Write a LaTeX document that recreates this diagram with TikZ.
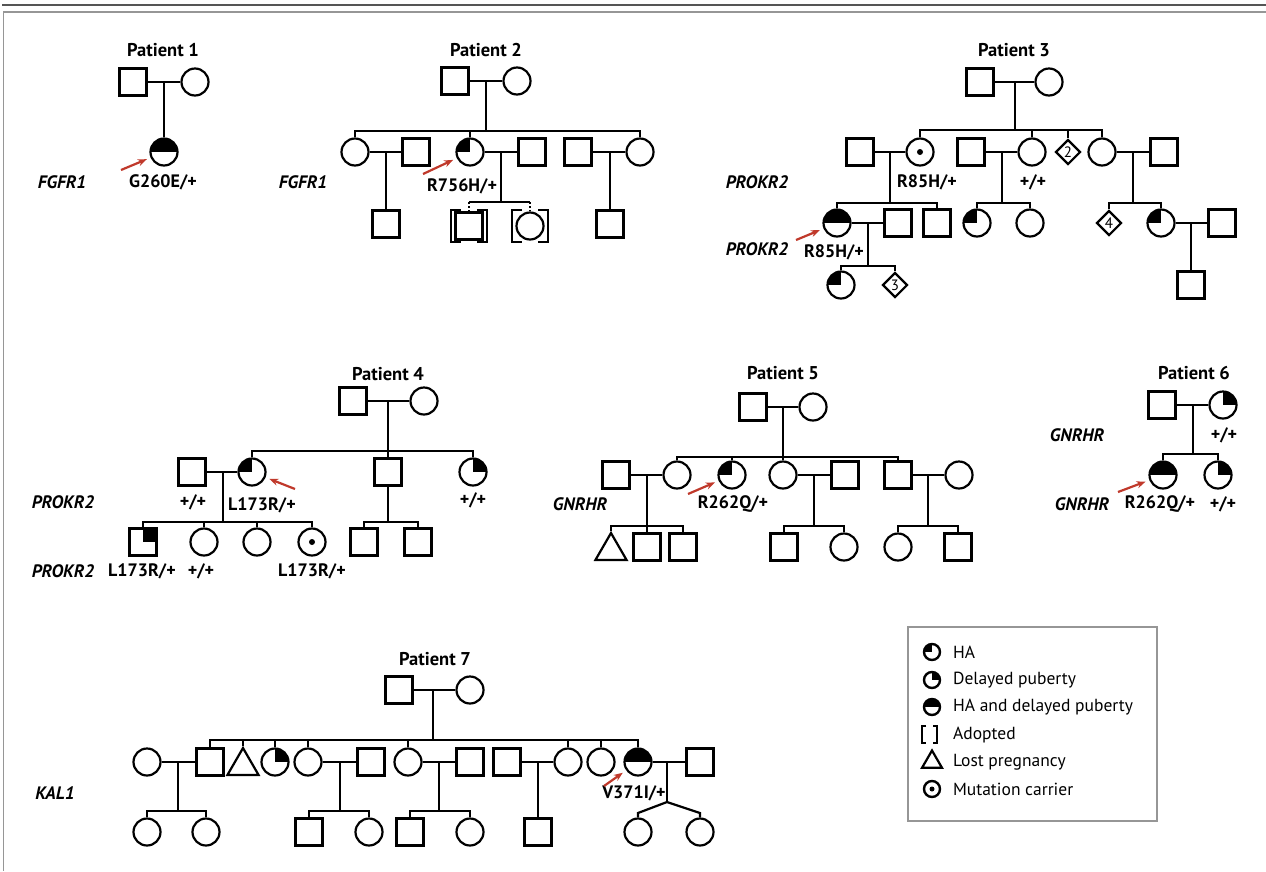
\documentclass[tikz,border=0pt]{standalone}
\usepackage{fontspec}
\setmainfont{PT Sans}
\usetikzlibrary{shapes.geometric,arrows.meta}

\definecolor{arrowred}{RGB}{192,57,43}
\definecolor{framegray}{RGB}{85,85,85}
\definecolor{keygray}{RGB}{150,150,150}

\tikzstyle{mS}=[rectangle,draw,fill=white,minimum size=27pt,inner sep=0pt,line width=2.2pt]
\tikzstyle{fS}=[circle,draw,fill=white,minimum size=27pt,inner sep=0pt,line width=2.2pt]
\tikzstyle{uS}=[diamond,draw,fill=white,minimum width=25pt,minimum height=25pt,inner sep=0pt,line width=2.2pt,font=\fontsize{15}{17}\selectfont]
\tikzstyle{lpS}=[regular polygon,regular polygon sides=3,draw,fill=white,minimum size=36pt,inner sep=0pt,line width=2.2pt]
\tikzstyle{haF}=[path picture={\fill[black] (path picture bounding box.center) rectangle (path picture bounding box.north west);}]
\tikzstyle{dpF}=[path picture={\fill[black] (path picture bounding box.center) rectangle (path picture bounding box.north east);}]
\tikzstyle{hdF}=[path picture={\fill[black] (path picture bounding box.west) rectangle (path picture bounding box.north east);}]
\tikzstyle{cF}=[path picture={\fill[black] (path picture bounding box.center) circle (3pt);}]
\tikzstyle{hS}=[inner sep=0pt,font=\fontsize{18.5}{20}\selectfont\bfseries]
\tikzstyle{gS}=[inner sep=0pt,font=\fontsize{18}{20}\selectfont\bfseries\itshape]
\tikzstyle{vS}=[inner sep=0pt,font=\fontsize{18}{20}\selectfont\bfseries]
\tikzstyle{kS}=[circle,draw,minimum size=16pt,inner sep=0pt,line width=2.4pt]
\tikzstyle{kT}=[anchor=west,inner sep=0pt,font=\fontsize{17.5}{19}\selectfont]
\tikzstyle{pA}=[-{Stealth[length=9pt,width=7pt]},line width=2.2pt,draw=arrowred,shorten >=4pt]

% brackets round an adopted child
\newcommand{\adopt}[1]{%
  \draw ([shift={(-8,-16)}]#1.center) -- ([shift={(-18,-16)}]#1.center) -- ([shift={(-18,16)}]#1.center) -- ([shift={(-8,16)}]#1.center);
  \draw ([shift={(8,-16)}]#1.center) -- ([shift={(18,-16)}]#1.center) -- ([shift={(18,16)}]#1.center) -- ([shift={(8,16)}]#1.center);}

\begin{document}
\begin{tikzpicture}[x=1pt,y=-1pt,line width=2.2pt]
    \useasboundingbox (0,0) rectangle (1266,871);
    \draw[framegray,line width=2.5pt] (2,5) -- (1266,5);
    \draw[keygray,line width=1.5pt] (1266,12) -- (3.5,12) -- (3.5,871);

    % Patient 1
    \draw (163,50) node[hS] (t1) {Patient 1};
    \draw (133,82) node[mS] (f1) {};
    \draw (195,82) node[fS] (m1) {};
    \draw (164,152) node[fS,hdF] (p1) {};
    \coordinate (c1) at (164,82);
    \draw (f1) -- (m1) (c1) -- (p1);
    \draw (62,182) node[gS] (g1) {FGFR1};
    \draw (163,182) node[vS] (v1) {G260E/+};
    \coordinate (a1) at (121,170);
    \draw[pA] (a1) -- (p1);

    % Patient 2
    \draw (486,50) node[hS] (t2) {Patient 2};
    \draw (455,81) node[mS] (f2) {};
    \draw (517,81) node[fS] (m2) {};
    \coordinate (c2) at (486,81);
    \coordinate (s2) at (486,131);
    \draw (355,152) node[fS] (d2a) {};
    \draw (416,152) node[mS] (h2a) {};
    \draw (470,152) node[fS,haF] (p2) {};
    \draw (532,152) node[mS] (h2b) {};
    \draw (578,152) node[mS] (h2c) {};
    \draw (640,152) node[fS] (d2c) {};
    \draw (386,224) node[mS] (g2a) {};
    \draw (469,226) node[mS] (g2b) {};
    \draw (530,226) node[fS] (g2c) {};
    \draw (610,224) node[mS] (g2d) {};
    \coordinate (c2a) at (386,152);
    \coordinate (c2b) at (501,152);
    \coordinate (s2b) at (501,202);
    \coordinate (t2a) at (469,202);
    \coordinate (t2b) at (530,202);
    \coordinate (c2c) at (610,152);
    \draw (f2) -- (m2) (c2) -- (s2);
    \draw (d2a) |- (s2) -| (d2c);
    \draw (s2) -| (p2);
    \draw (d2a) -- (h2a) (c2a) -- (g2a);
    \draw (p2) -- (h2b) (c2b) -- (s2b);
    \draw (t2a) -- (t2b);
    \draw[line width=1.5pt,dash pattern=on 2pt off 2pt] (t2a) -- (g2b) (t2b) -- (g2c);
    \adopt{g2b}
    \adopt{g2c}
    \draw (h2c) -- (d2c) (c2c) -- (g2d);
    \draw (303,182) node[gS] (g2) {FGFR1};
    \draw (462,186) node[vS] (v2) {R756H/+};
    \coordinate (a2) at (423,174);
    \draw[pA] (a2) -- (p2);

    % Patient 3
    \draw (1014,50) node[hS] (t3) {Patient 3};
    \draw (980,82) node[mS] (f3) {};
    \draw (1049,82) node[fS] (m3) {};
    \coordinate (c3) at (1015,82);
    \coordinate (s3) at (1015,130);
    \draw (860,152) node[mS] (h3a) {};
    \draw (920,152) node[fS,cF] (k3a) {};
    \draw (971,152) node[mS] (h3b) {};
    \draw (1032,152) node[fS] (k3b) {};
    \draw (1068,152) node[uS] (x3a) {2};
    \draw (1102,152) node[fS] (k3c) {};
    \draw (1164,152) node[mS] (h3c) {};
    \draw (837,223) node[fS,hdF] (p3) {};
    \draw (898,223) node[mS] (h3d) {};
    \draw (937,223) node[mS] (b3a) {};
    \draw (977,223) node[fS,haF] (k3d) {};
    \draw (1030,223) node[fS] (k3e) {};
    \draw (1109,223) node[uS] (x3b) {4};
    \draw (1161,223) node[fS,haF] (k3f) {};
    \draw (1222,223) node[mS] (h3e) {};
    \draw (841,285) node[fS,haF] (g3a) {};
    \draw (895,285) node[uS] (x3c) {3};
    \draw (1191,285) node[mS] (g3c) {};
    \coordinate (c3a) at (890,152);
    \coordinate (s3a) at (890,203);
    \coordinate (c3b) at (1002,152);
    \coordinate (s3b) at (1002,203);
    \coordinate (c3c) at (1133,152);
    \coordinate (s3c) at (1133,203);
    \coordinate (c3d) at (868,223);
    \coordinate (s3d) at (868,266);
    \coordinate (c3e) at (1191,223);
    \draw (f3) -- (m3) (c3) -- (s3);
    \draw (k3a) |- (s3) -| (k3c);
    \draw (s3) -| (k3b) (s3) -| (x3a);
    \draw (h3a) -- (k3a) (c3a) -- (s3a);
    \draw (h3b) -- (k3b) (c3b) -- (s3b);
    \draw (k3c) -- (h3c) (c3c) -- (s3c);
    \draw (p3) |- (s3a) -| (b3a);
    \draw (k3d) |- (s3b) -| (k3e);
    \draw (x3b) |- (s3c) -| (k3f);
    \draw (p3) -- (h3d) (c3d) -- (s3d);
    \draw (g3a) |- (s3d) -| (x3c);
    \draw (k3f) -- (h3e) (c3e) -- (g3c);
    \draw (757,182) node[gS] (g3) {PROKR2};
    \draw (757,249) node[gS] (g3b) {PROKR2};
    \draw (927,182) node[vS] (v3a) {R85H/+};
    \draw (1033,182) node[vS] (v3b) {+/+};
    \draw (834,252) node[vS] (v3c) {R85H/+};
    \coordinate (a3) at (796,240);
    \draw[pA] (a3) -- (p3);

    % Patient 4
    \draw (388,374) node[hS] (t4) {Patient 4};
    \draw (353,401) node[mS] (f4) {};
    \draw (424,401) node[fS] (m4) {};
    \coordinate (c4) at (388,401);
    \coordinate (s4) at (388,451);
    \draw (192,472) node[mS] (h4a) {};
    \draw (252,472) node[fS,haF] (p4) {};
    \draw (388,472) node[mS] (b4a) {};
    \draw (473,472) node[fS,dpF] (k4a) {};
    \draw (143,542) node[mS,dpF] (g4a) {};
    \draw (204,542) node[fS] (g4b) {};
    \draw (257,542) node[fS] (g4c) {};
    \draw (312,542) node[fS,cF] (g4d) {};
    \draw (364,542) node[mS] (g4e) {};
    \draw (418,542) node[mS] (g4f) {};
    \coordinate (c4a) at (223,472);
    \coordinate (s4a) at (223,522);
    \coordinate (s4b) at (388,522);
    \draw (f4) -- (m4) (c4) -- (s4);
    \draw (p4) |- (s4) -| (k4a);
    \draw (s4) -- (b4a);
    \draw (h4a) -- (p4) (c4a) -- (s4a);
    \draw (g4a) |- (s4a) -| (g4d);
    \draw (s4a) -| (g4b) (s4a) -| (g4c);
    \draw (b4a) -- (s4b);
    \draw (g4e) |- (s4b) -| (g4f);
    \draw (63,502) node[gS] (g4) {PROKR2};
    \draw (193,502) node[vS] (v4a) {+/+};
    \draw (262,505) node[vS] (v4b) {L173R/+};
    \draw (473,500) node[vS] (v4c) {+/+};
    \draw (63,571) node[gS] (g4b2) {PROKR2};
    \draw (142,571) node[vS] (v4d) {L173R/+};
    \draw (201,571) node[vS] (v4e) {+/+};
    \draw (312,571) node[vS] (v4f) {L173R/+};
    \coordinate (a4) at (295,489);
    \draw[pA] (a4) -- (p4);

    % Patient 5
    \draw (783,373) node[hS] (t5) {Patient 5};
    \draw (753,407) node[mS] (f5) {};
    \draw (813,407) node[fS] (m5) {};
    \coordinate (c5) at (783,407);
    \coordinate (s5) at (783,457);
    \draw (616,475) node[mS] (h5a) {};
    \draw (677,475) node[fS] (k5a) {};
    \draw (732,475) node[fS,haF] (p5) {};
    \draw (783,475) node[fS] (k5b) {};
    \draw (845,475) node[mS] (h5b) {};
    \draw (898,475) node[mS] (b5a) {};
    \draw (959,475) node[fS] (w5) {};
    \draw (611,551) node[lpS] (l5) {};
    \draw (647,547) node[mS] (g5a) {};
    \draw (683,547) node[mS] (g5b) {};
    \draw (784,547) node[mS] (g5c) {};
    \draw (844,547) node[fS] (g5d) {};
    \draw (898,547) node[fS] (g5e) {};
    \draw (958,547) node[mS] (g5f) {};
    \coordinate (c5a) at (647,475);
    \coordinate (s5a) at (647,526);
    \coordinate (c5b) at (814,475);
    \coordinate (s5b) at (814,526);
    \coordinate (c5c) at (928,475);
    \coordinate (s5c) at (928,526);
    \draw (f5) -- (m5) (c5) -- (s5);
    \draw (k5a) |- (s5) -| (b5a);
    \draw (s5) -| (p5) (s5) -- (k5b);
    \draw (h5a) -- (k5a) (c5a) -- (s5a);
    \draw (k5b) -- (h5b) (c5b) -- (s5b);
    \draw (b5a) -- (w5) (c5c) -- (s5c);
    \draw (l5) |- (s5a) -| (g5b);
    \draw (s5a) -- (g5a);
    \draw (g5c) |- (s5b) -| (g5d);
    \draw (g5e) |- (s5c) -| (g5f);
    \draw (580,504) node[gS] (g5) {GNRHR};
    \draw (733,504) node[vS] (v5) {R262Q/+};
    \coordinate (a5) at (688,494);
    \draw[pA] (a5) -- (p5);

    % Patient 6
    \draw (1194,373) node[hS] (t6) {Patient 6};
    \draw (1162,405) node[mS] (f6) {};
    \draw (1223,405) node[fS,dpF] (m6) {};
    \coordinate (c6) at (1193,405);
    \coordinate (s6) at (1193,454);
    \draw (1163,475) node[fS,hdF] (p6) {};
    \draw (1218,475) node[fS,dpF] (k6) {};
    \draw (f6) -- (m6) (c6) -- (s6);
    \draw (p6) |- (s6) -| (k6);
    \draw (1077,435) node[gS] (g6a) {GNRHR};
    \draw (1224,435) node[vS] (v6a) {+/+};
    \draw (1082,504) node[gS] (g6b) {GNRHR};
    \draw (1160,504) node[vS] (v6b) {R262Q/+};
    \draw (1223,504) node[vS] (v6c) {+/+};
    \coordinate (a6) at (1118,492);
    \draw[pA] (a6) -- (p6);

    % Patient 7
    \draw (435,659) node[hS] (t7) {Patient 7};
    \draw (399,690) node[mS] (f7) {};
    \draw (470,690) node[fS] (m7) {};
    \coordinate (c7) at (433,690);
    \coordinate (s7) at (433,740);
    \draw (147,762) node[fS] (w7a) {};
    \draw (210,762) node[mS] (b7a) {};
    \draw (243,766) node[lpS] (l7) {};
    \draw (275,762) node[fS,dpF] (k7a) {};
    \draw (308,762) node[fS] (k7b) {};
    \draw (371,762) node[mS] (h7b) {};
    \draw (408,762) node[fS] (k7c) {};
    \draw (470,762) node[mS] (h7c) {};
    \draw (507,762) node[mS] (h7d) {};
    \draw (568,762) node[fS] (k7d) {};
    \draw (601,762) node[fS] (k7e) {};
    \draw (638,762) node[fS,hdF] (p7) {};
    \draw (700,762) node[mS] (h7e) {};
    \draw (147,832) node[fS] (g7a) {};
    \draw (206,832) node[fS] (g7b) {};
    \draw (309,832) node[mS] (g7c) {};
    \draw (369,832) node[fS] (g7d) {};
    \draw (410,832) node[mS] (g7e) {};
    \draw (470,832) node[fS] (g7f) {};
    \draw (538,832) node[mS] (g7g) {};
    \draw (638,832) node[fS] (g7h) {};
    \draw (700,832) node[fS] (g7i) {};
    \coordinate (c7a) at (178,762);
    \coordinate (s7a) at (178,811);
    \coordinate (c7b) at (340,762);
    \coordinate (s7b) at (340,811);
    \coordinate (c7c) at (439,762);
    \coordinate (s7c) at (439,811);
    \coordinate (c7d) at (538,762);
    \coordinate (c7e) at (667,762);
    \coordinate (s7e) at (667,802);
    \coordinate (tw7a) at (638,813);
    \coordinate (tw7b) at (700,813);
    \draw (f7) -- (m7) (c7) -- (s7);
    \draw (b7a) |- (s7) -| (p7);
    \draw (s7) -| (l7) (s7) -| (k7a) (s7) -| (k7b) (s7) -| (k7c);
    \draw (s7) -| (k7d) (s7) -| (k7e);
    \draw (w7a) -- (b7a) (c7a) -- (s7a);
    \draw (k7b) -- (h7b) (c7b) -- (s7b);
    \draw (k7c) -- (h7c) (c7c) -- (s7c);
    \draw (h7d) -- (k7d) (c7d) -- (g7g);
    \draw (p7) -- (h7e) (c7e) -- (s7e);
    \draw (g7a) |- (s7a) -| (g7b);
    \draw (g7c) |- (s7b) -| (g7d);
    \draw (g7e) |- (s7c) -| (g7f);
    \draw (g7h) -- (tw7a) -- (s7e) -- (tw7b) -- (g7i);
    \draw (55,793) node[gS] (g7) {KAL1};
    \draw (634,793) node[vS] (v7) {V371I/+};
    \coordinate (a7) at (604,786);
    \draw[pA] (a7) -- (p7);

    % key
    \draw[keygray,line width=1.5pt] (908,627) rectangle (1157,821);
    \draw (932,652) node[kS,haF] (k1) {};
    \draw (932,680) node[kS,dpF] (k2) {};
    \draw (932,707) node[kS,hdF] (k3) {};
    \draw (932,762) node[regular polygon,regular polygon sides=3,draw,minimum size=23pt,inner sep=0pt,line width=2.2pt] (k5) {};
    \draw (932,789) node[kS,path picture={\fill (path picture bounding box.center) circle (2.5pt);}] (k6) {};
    \draw[line width=2.2pt] (926,726) -- (922,726) -- (922,743) -- (926,743);
    \draw[line width=2.2pt] (933,726) -- (937,726) -- (937,743) -- (933,743);
    \draw (952,652) node[kT] (kt1) {HA};
    \draw (952,680) node[kT] (kt2) {Delayed puberty};
    \draw (952,707) node[kT] (kt3) {HA and delayed puberty};
    \draw (952,735) node[kT] (kt4) {Adopted};
    \draw (952,762) node[kT] (kt5) {Lost pregnancy};
    \draw (952,789) node[kT] (kt6) {Mutation carrier};
\end{tikzpicture}
\end{document}
